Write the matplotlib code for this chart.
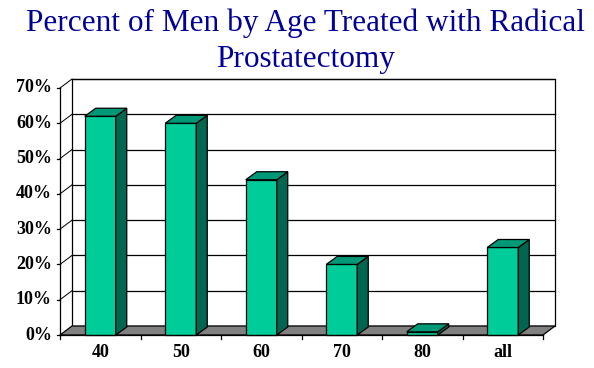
import matplotlib
matplotlib.use("Agg")
import matplotlib.pyplot as plt
from matplotlib.patches import Polygon

# chart values
CATEGORIES = ["40", "50", "60", "70", "80", "all"]
PERCENT = [62.0, 60.0, 44.0, 20.0, 0.9, 24.8]
Y_TICKS = [0, 10, 20, 30, 40, 50, 60, 70]
Y_LABELS = [f"{t}%" for t in Y_TICKS]
TITLE_LINES = ["Percent of Men by Age Treated with Radical", "Prostatectomy"]

FRONT = "#00CC99"
TOP = "#009977"
SIDE = "#006650"
FLOOR = "#808080"
TITLE_COLOR = "#000099"
SERIF = ["Liberation Serif", "DejaVu Serif"]

W, H = 594, 368
fig = plt.figure(figsize=(W / 100, H / 100), dpi=100)

# front plane of the plot box, in pixels
left, right, bottom, top = 60, 543, 335, 88
ax = fig.add_axes([left / W, 1 - bottom / H, (right - left) / W, (bottom - top) / H])
n = len(CATEGORIES)
ax.set_xlim(0, n)
ax.set_ylim(0, 70)
ax.axis("off")

# depth of the 3d box converted to data units
px_x = (right - left) / n
px_y = (bottom - top) / 70
dx, dy = 12 / px_x, 9 / px_y
bdx, bdy = 11 / px_x, 8 / px_y
bar_w = 31 / px_x
lw = 0.9

# back wall
ax.add_patch(Polygon([(dx, dy), (n + dx, dy), (n + dx, 70 + dy), (dx, 70 + dy)],
                     closed=True, facecolor="white", edgecolor="black", lw=lw,
                     clip_on=False, zorder=1))
for t in Y_TICKS[1:]:
    ax.plot([dx, n + dx], [t + dy, t + dy], color="black", lw=lw, clip_on=False, zorder=2)
    ax.plot([0, dx], [t, t + dy], color="black", lw=lw * 0.8, clip_on=False, zorder=2)

# floor
ax.add_patch(Polygon([(0, 0), (n, 0), (n + dx, dy), (dx, dy)], closed=True,
                     facecolor=FLOOR, edgecolor="black", lw=lw, clip_on=False, zorder=3))

# bars
for i, v in enumerate(PERCENT):
    x0 = i + 0.5 - bar_w / 2
    x1 = x0 + bar_w
    kw = dict(closed=True, edgecolor="black", lw=lw, clip_on=False, zorder=4 + i)
    ax.add_patch(Polygon([(x0, 0), (x1, 0), (x1, v), (x0, v)], facecolor=FRONT, **kw))
    ax.add_patch(Polygon([(x1, 0), (x1 + bdx, bdy), (x1 + bdx, v + bdy), (x1, v)],
                         facecolor=SIDE, **kw))
    ax.add_patch(Polygon([(x0, v), (x1, v), (x1 + bdx, v + bdy), (x0 + bdx, v + bdy)],
                         facecolor=TOP, **kw))

# front axes, ticks and labels
ax.plot([0, 0], [0, 70], color="black", lw=lw, clip_on=False, zorder=20)
ax.plot([0, n], [0, 0], color="black", lw=lw, clip_on=False, zorder=20)
tick_x = 3 / px_x
tick_y = 3.5 / px_y
for t, lab in zip(Y_TICKS, Y_LABELS):
    ax.plot([-tick_x, 0], [t, t], color="black", lw=lw, clip_on=False, zorder=20)
    ax.text(-8 / px_x, t, lab, ha="right", va="center", fontsize=13,
            fontweight="bold", family=SERIF)
for i in range(n + 1):
    ax.plot([i, i], [0, -tick_y], color="black", lw=lw, clip_on=False, zorder=20)
for i, lab in enumerate(CATEGORIES):
    ax.text(i + 0.5, -17.5 / px_y, lab, ha="center", va="center", fontsize=13,
            fontweight="bold", family=SERIF)

# title
for k, line in enumerate(TITLE_LINES):
    fig.text(306 / W, 1 - (31 + 36 * k) / H, line, ha="center", va="baseline",
             fontsize=22.5, color=TITLE_COLOR, family=SERIF)

fig.savefig("out.png", dpi=100, facecolor="white")
